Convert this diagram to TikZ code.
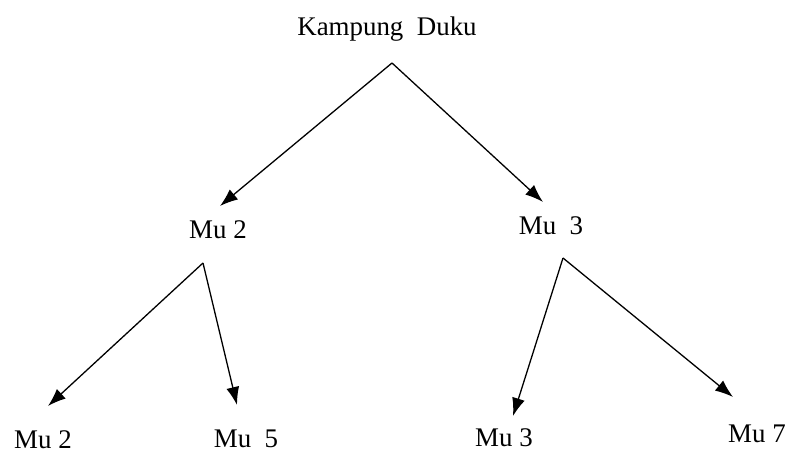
\documentclass[tikz,border=0pt]{standalone}
\usepackage{fontspec}
\setmainfont{Liberation Serif}
\usetikzlibrary{arrows.meta}

\begin{document}
\begin{tikzpicture}[x=1bp,y=-1bp,
	lbl/.style={anchor=base,inner sep=0pt,font=\fontsize{27}{32}\selectfont},
	arr/.style={line width=1.3pt,-{Latex[length=18bp,width=13bp]}}]
	
	\useasboundingbox (0,0) rectangle (790,455);
	
	\node[lbl] (kd) at (387,36) {Kampung\ \ Duku};
	\node[lbl] (m2) at (218,239) {Mu 2};
	\node[lbl] (m3) at (551,235) {Mu\ \ 3};
	\node[lbl] (b2) at (43,448) {Mu 2};
	\node[lbl] (b5) at (246,447) {Mu\ \ 5};
	\node[lbl] (b3) at (504,446) {Mu 3};
	\node[lbl] (b7) at (757,442) {Mu 7};
	
	\coordinate (kdtop) at (392,63);
	\coordinate (m2top) at (203,263);
	\coordinate (m3top) at (563,258);
	
	\coordinate (m2in) at (220,206);
	\coordinate (m3in) at (543,202);
	\coordinate (b2in) at (48,406);
	\coordinate (b5in) at (237,405);
	\coordinate (b3in) at (513,416);
	\coordinate (b7in) at (733,397);
	
	\draw[arr] (kdtop) -- (m2in);
	\draw[arr] (kdtop) -- (m3in);
	\draw[arr] (m2top) -- (b2in);
	\draw[arr] (m2top) -- (b5in);
	\draw[arr] (m3top) -- (b3in);
	\draw[arr] (m3top) -- (b7in);
	
\end{tikzpicture}
\end{document}
